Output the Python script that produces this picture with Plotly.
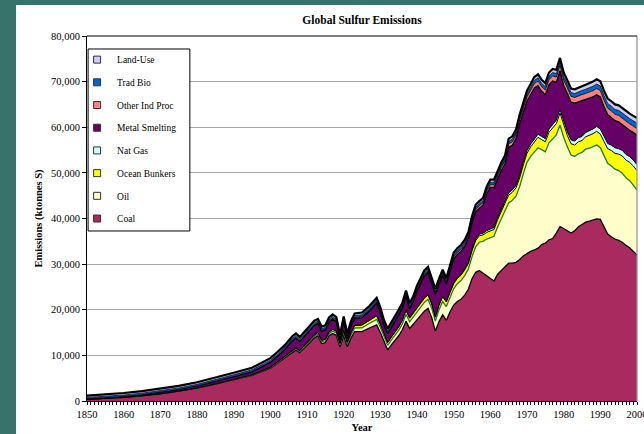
import plotly.graph_objects as go

years = [1850, 1855, 1860, 1865, 1870, 1875, 1880, 1885, 1890, 1895,
         1900, 1902, 1904, 1906, 1907, 1908, 1910, 1911, 1912, 1913, 1914, 1915, 1916, 1917, 1918, 1919,
         1920, 1921, 1922, 1923, 1925, 1927, 1929, 1930, 1931, 1932, 1933, 1935, 1936, 1937, 1938, 1939,
         1940, 1941, 1942, 1943, 1944, 1945, 1946, 1947, 1948, 1949,
         1950, 1951, 1952, 1953, 1954, 1955, 1956, 1957, 1958, 1959,
         1960, 1961, 1962, 1963, 1964, 1965, 1966, 1967, 1968, 1969,
         1970, 1971, 1972, 1973, 1974, 1975, 1976, 1977, 1978, 1979,
         1980, 1981, 1982, 1983, 1984, 1985, 1986, 1987, 1988, 1989,
         1990, 1991, 1992, 1993, 1994, 1995, 1996, 1997, 1998, 1999, 2000]

coal = [350, 550, 800, 1150, 1550, 2150, 2800, 3700, 4700, 5600,
        7200, 8400, 9600, 10700, 11200, 10600, 12200, 13000, 13800, 14300, 12600, 12800, 14300, 14800, 14400, 11800,
        14400, 11900, 13800, 15200, 15200, 16000, 16700, 15000, 12900, 11200, 12300, 14300, 15600, 17500, 15900, 16800,
        17800, 18800, 19700, 20300, 18300, 15300, 17400, 18900, 17700, 19500,
        21000, 21800, 22300, 23200, 24500, 26800, 28200, 28600, 28000, 27300,
        26800, 26300, 27800, 28600, 29500, 30200, 30200, 30400, 31000, 31800,
        32300, 32800, 33100, 33500, 34300, 34600, 35300, 35600, 36800, 38200,
        37800, 37200, 36800, 37300, 38200, 38700, 39200, 39400, 39600, 39900,
        39800, 38300, 36600, 36000, 35500, 35200, 34800, 34100, 33600, 32800, 32000]

oil = [0, 0, 0, 10, 20, 30, 50, 70, 100, 120,
       150, 170, 190, 220, 240, 250, 300, 320, 350, 380, 380, 400, 450, 500, 500, 500,
       650, 600, 700, 800, 850, 1000, 1200, 1150, 1100, 1000, 1050, 1200, 1300, 1500, 1450, 1550,
       1700, 1800, 1900, 2000, 2100, 2200, 2600, 2900, 3000, 3200,
       3600, 3900, 4100, 4300, 4400, 4800, 5600, 6200, 7000, 8200,
       9000, 9800, 10400, 11200, 12200, 13200, 13800, 14500, 16000, 18000,
       20000, 20800, 21500, 22000, 20800, 20000, 21300, 21800, 21500, 22300,
       20000, 18500, 17100, 16300, 16000, 15800, 16000, 16000, 16100, 16200,
       15700, 15500, 15500, 15500, 15300, 15300, 15100, 14800, 14700, 14500, 14200]

ocean_bunkers = [0, 0, 0, 0, 0, 0, 0, 0, 0, 50,
                 100, 130, 160, 200, 220, 220, 280, 300, 330, 350, 330, 330, 380, 400, 400, 350,
                 450, 400, 500, 550, 600, 650, 750, 700, 650, 600, 620, 700, 750, 850, 800, 850,
                 850, 900, 900, 950, 900, 850, 950, 1000, 1000, 1050,
                 1100, 1150, 1150, 1200, 1200, 1300, 1350, 1400, 1400, 1450,
                 1500, 1500, 1550, 1600, 1650, 1700, 1750, 1800, 1900, 1950,
                 2000, 2100, 2200, 2300, 2200, 2200, 2300, 2400, 2500, 2600,
                 2600, 2500, 2500, 2500, 2600, 2600, 2700, 2800, 2900, 3000,
                 3000, 3100, 3200, 3400, 3500, 3600, 3800, 3900, 4000, 4200, 4300]

nat_gas = [0, 0, 0, 0, 0, 0, 0, 0, 0, 0,
           0, 0, 0, 0, 0, 0, 10, 10, 10, 10, 10, 10, 10, 10, 10, 20,
           20, 20, 20, 30, 30, 40, 50, 50, 50, 50, 60, 70, 80, 90, 90, 100,
           100, 100, 110, 110, 110, 120, 130, 140, 150, 170,
           200, 210, 220, 240, 260, 300, 320, 340, 360, 380,
           400, 420, 440, 460, 480, 500, 520, 540, 560, 580,
           600, 620, 640, 660, 680, 700, 720, 740, 760, 780,
           800, 820, 840, 860, 880, 900, 940, 980, 1020, 1060,
           1100, 1120, 1140, 1160, 1180, 1200, 1220, 1240, 1260, 1280, 1300]

metal_smelting = [110, 145, 180, 200, 270, 295, 410, 465, 510, 610,
                  1000, 1136, 1372, 2088, 2141, 1924, 2090, 2043, 2076, 1919, 1932, 2005, 2098, 2221, 2014, 752,
                  1890, 783, 1376, 1509, 1595, 1971, 2747, 2440, 1833, 1876, 1989, 2535, 2568, 3051, 1944, 2477,
                  3620, 4163, 4746, 4789, 4532, 4860, 4436, 4560, 3734, 4538,
                  5230, 5050, 5020, 4920, 5170, 5800, 6000, 5700, 6150, 8035,
                  9120, 8770, 8570, 8655, 8140, 10015, 9790, 10260, 11270, 11020,
                  10850, 10860, 11170, 10680, 9890, 9620, 9750, 9580, 8300, 8520,
                  7950, 8370, 8290, 8310, 7930, 7850, 7250, 7150, 7050, 6950,
                  7050, 6500, 6350, 6100, 5950, 5900, 5660, 5720, 5780, 6040, 6500]

other_ind_proc = [20, 25, 30, 35, 40, 45, 50, 60, 70, 85,
                  100, 110, 120, 130, 135, 140, 150, 155, 160, 165, 170, 175, 180, 185, 190, 190,
                  200, 205, 210, 215, 225, 235, 245, 250, 255, 260, 265, 275, 280, 285, 290, 295,
                  300, 305, 310, 315, 320, 330, 340, 350, 360, 380,
                  400, 410, 420, 440, 460, 480, 500, 520, 540, 570,
                  600, 620, 640, 670, 700, 730, 760, 790, 820, 860,
                  900, 930, 960, 990, 1020, 1050, 1080, 1110, 1140, 1170,
                  1200, 1220, 1240, 1260, 1280, 1300, 1320, 1340, 1360, 1380,
                  1400, 1400, 1400, 1400, 1400, 1400, 1400, 1400, 1400, 1400, 1400]

trad_bio = [300, 305, 310, 320, 330, 335, 340, 350, 360, 370,
            380, 382, 384, 386, 387, 388, 390, 391, 392, 393, 394, 395, 396, 397, 398, 399,
            400, 401, 402, 403, 405, 407, 409, 410, 411, 412, 413, 415, 416, 417, 418, 419,
            420, 421, 422, 423, 424, 425, 427, 430, 433, 436,
            440, 445, 450, 455, 460, 465, 470, 475, 480, 490,
            500, 505, 510, 520, 530, 545, 560, 580, 600, 620,
            650, 670, 690, 710, 730, 740, 750, 760, 780, 790,
            800, 820, 840, 860, 880, 900, 920, 940, 960, 980,
            1000, 1020, 1040, 1060, 1080, 1100, 1120, 1140, 1160, 1180, 1200]

land_use = [420, 425, 430, 435, 440, 445, 450, 455, 460, 465,
            470, 472, 474, 476, 477, 478, 480, 481, 482, 483, 484, 485, 486, 487, 488, 489,
            490, 491, 492, 493, 495, 497, 499, 500, 501, 502, 503, 505, 506, 507, 508, 509,
            510, 511, 512, 513, 514, 515, 517, 520, 523, 526,
            530, 535, 540, 545, 550, 555, 560, 565, 570, 575,
            580, 585, 590, 595, 600, 610, 620, 630, 650, 670,
            700, 720, 740, 760, 780, 790, 800, 810, 820, 840,
            850, 870, 890, 910, 930, 950, 970, 990, 1010, 1030,
            1050, 1060, 1070, 1080, 1090, 1100, 1100, 1100, 1100, 1100, 1100]

x_ticks = [1850, 1860, 1870, 1880, 1890, 1900, 1910, 1920, 1930, 1940, 1950, 1960, 1970, 1980, 1990, 2000]
y_ticks = [0, 10000, 20000, 30000, 40000, 50000, 60000, 70000, 80000]

# stack order bottom -> top: (name, values, fill colour, line colour, line width)
series = [
    ("Coal", coal, "#a82a5f", "#000000", 1.3),
    ("Oil", oil, "#ffffcc", "#217a21", 1.3),
    ("Ocean Bunkers", ocean_bunkers, "#ffff00", "#000000", 1.0),
    ("Nat Gas", nat_gas, "#ccffff", "#000000", 1.0),
    ("Metal Smelting", metal_smelting, "#660066", "#000000", 1.3),
    ("Other Ind Proc", other_ind_proc, "#ff8080", "#000000", 0.8),
    ("Trad Bio", trad_bio, "#0066cc", "#000000", 0.8),
    ("Land-Use", land_use, "#ccccff", "#000000", 2.2),
]

FONT = "Liberation Serif, Times New Roman, serif"

fig = go.Figure()
for name, vals, fc, lc, lw in series:
    fig.add_trace(go.Scatter(
        x=years, y=vals, name=name, mode="lines", stackgroup="one",
        fillcolor=fc, line=dict(color=lc, width=lw), showlegend=False,
        hoverinfo="skip"))

# legend entries (small squares), listed top -> bottom
for i, (name, vals, fc, lc, lw) in enumerate(reversed(series)):
    fig.add_trace(go.Scatter(
        x=[None], y=[None], mode="markers", name=name, legendgroup=f"g{i}",
        marker=dict(symbol="square", size=7, color=fc, line=dict(color="#333333", width=1)),
        showlegend=True))

fig.update_layout(
    width=644, height=434,
    margin=dict(l=87, r=7, t=36, b=33),
    paper_bgcolor="#37736b",
    plot_bgcolor="white",
    font=dict(family=FONT, color="black", size=10.5),
    title=dict(text="<b>Global Sulfur Emissions</b>", x=0.5, xref="paper", xanchor="center",
               y=0.955, yanchor="middle", font=dict(size=11.5, family=FONT, color="black")),
    showlegend=True,
    legend=dict(x=-0.018, y=0.975, xanchor="left", yanchor="top", bgcolor="rgba(0,0,0,0)",
                borderwidth=0, font=dict(size=9.5, family=FONT),
                traceorder="grouped", tracegroupgap=3.7, itemwidth=30),
    shapes=[
        dict(type="rect", xref="paper", yref="paper", x0=-0.129, x1=1.02, y0=-0.0904, y1=1.085,
             fillcolor="white", line=dict(width=0), layer="below"),
        dict(type="line", xref="paper", yref="paper", x0=1, x1=1, y0=0, y1=1,
             line=dict(color="#909090", width=1.2), layer="above"),
        # legend frame
        dict(type="rect", xref="paper", yref="paper", x0=0.002, x1=0.187, y0=0.4658, y1=0.9644,
             fillcolor="white", line=dict(color="black", width=1), layer="above"),
        # top frame line at 80,000
        dict(type="line", xref="paper", yref="paper", x0=0, x1=1, y0=1, y1=1,
             line=dict(color="black", width=1.2), layer="above"),
    ],
)

fig.update_xaxes(range=[1850, 2000], tickvals=x_ticks, ticktext=[str(v) for v in x_ticks],
                 ticklabeloverflow="allow", automargin=False,
                 showgrid=False, showline=True, linecolor="black", linewidth=1, mirror=False,
                 ticks="outside", ticklen=3, tickcolor="black",
                 minor=dict(dtick=1, tick0=1850, ticks="outside", ticklen=3, tickcolor="black", showgrid=False),
                 title=dict(text="<b>Year</b>", font=dict(size=10.5, family=FONT), standoff=5),
                 tickfont=dict(size=10.5, family=FONT), zeroline=False)
fig.update_yaxes(range=[0, 80000], tickvals=y_ticks, tickformat=",d", automargin=False,
                 showgrid=True, gridcolor="#a8a8a8", gridwidth=1,
                 showline=True, linecolor="black", linewidth=1,
                 ticks="outside", ticklen=4, tickcolor="black",
                 title=dict(text="<b>Emissions (ktonnes S)</b>", font=dict(size=10.5, family=FONT), standoff=6),
                 tickfont=dict(size=10.5, family=FONT), zeroline=False)

fig.write_html("out.html")
